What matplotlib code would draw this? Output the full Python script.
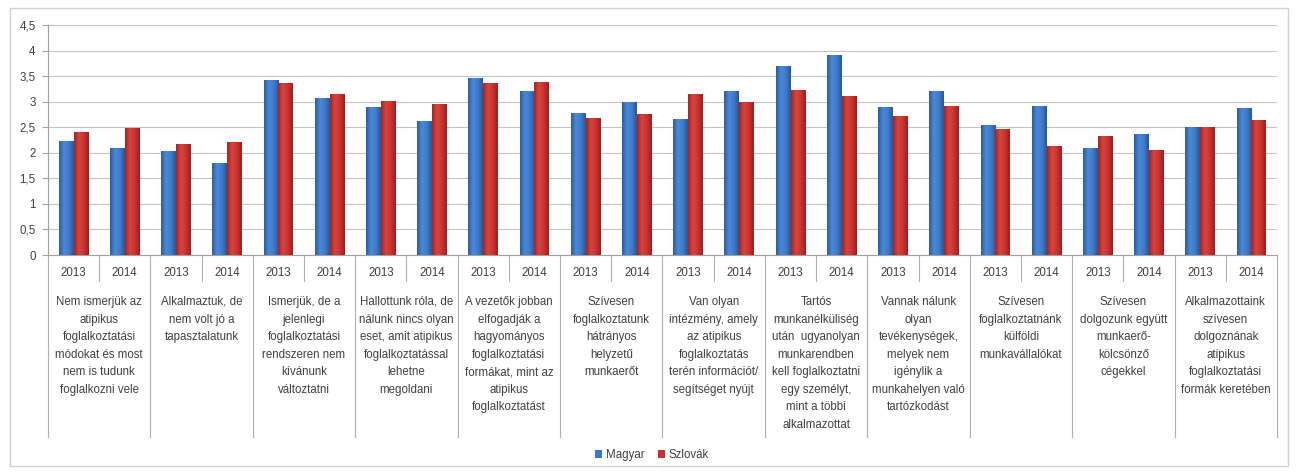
import numpy as np
import matplotlib
matplotlib.use("Agg")
import matplotlib.pyplot as plt
import matplotlib.transforms as mtransforms
from matplotlib.patches import Rectangle
from matplotlib.colors import LinearSegmentedColormap
from matplotlib.ticker import FuncFormatter

plt.rcParams['font.family'] = ['Liberation Sans', 'DejaVu Sans']

# data
groups = [
    "Nem ismerjük az\natipikus\nfoglalkoztatási\nmódokat és most\nnem is tudunk\nfoglalkozni vele",
    "Alkalmaztuk, de\nnem volt jó a\ntapasztalatunk",
    "Ismerjük, de a\njelenlegi\nfoglalkoztatási\nrendszeren nem\nkívánunk\nváltoztatni",
    "Hallottunk róla, de\nnálunk nincs olyan\neset, amit atipikus\nfoglalkoztatással\nlehetne\nmegoldani",
    "A vezetők jobban\nelfogadják a\nhagyományos\nfoglalkoztatási\nformákat, mint az\natipikus\nfoglalkoztatást",
    "Szívesen\nfoglalkoztatunk\nhátrányos\nhelyzetű\nmunkaerőt",
    "Van olyan\nintézmény, amely\naz atipikus\nfoglalkoztatás\nterén információt/\nsegítséget nyújt",
    "Tartós\nmunkanélküliség\nután  ugyanolyan\nmunkarendben\nkell foglalkoztatni\negy személyt,\nmint a többi\nalkalmazottat",
    "Vannak nálunk\nolyan\ntevékenységek,\nmelyek nem\nigénylik a\nmunkahelyen való\ntartózkodást",
    "Szívesen\nfoglalkoztatnánk\nkülföldi\nmunkavállalókat",
    "Szívesen\ndolgozunk együtt\nmunkaerő-\nkölcsönző\ncégekkel",
    "Alkalmazottaink\nszívesen\ndolgoznának\natipikus\nfoglalkoztatási\nformák keretében",
]
years = ["2013", "2014"]
series_names = ["Magyar", "Szlovák"]

magyar = [2.24, 2.10, 2.03, 1.80, 3.42, 3.07, 2.90, 2.63, 3.47, 3.20, 2.78, 3.00,
          2.67, 3.20, 3.70, 3.91, 2.89, 3.20, 2.54, 2.92, 2.09, 2.37, 2.51, 2.88]
szlovak = [2.41, 2.49, 2.17, 2.21, 3.37, 3.15, 3.02, 2.95, 3.37, 3.39, 2.68, 2.75,
           3.15, 3.00, 3.22, 3.12, 2.72, 2.92, 2.47, 2.14, 2.32, 2.05, 2.50, 2.64]

W, H = 1296, 473
fig = plt.figure(figsize=(W / 100, H / 100), dpi=100)

def fx(px):
    return px / W

def fy(py):
    return 1 - py / H

# outer chart frame
fig.patches.append(Rectangle((fx(10), fy(466)), fx(1288) - fx(10), fy(8) - fy(466),
                             transform=fig.transFigure, fill=False,
                             edgecolor='#d0d0d0', linewidth=1.0))

left, right, top, bottom = 48, 1277, 25, 255
ax = fig.add_axes([fx(left), fy(bottom), fx(right) - fx(left), fy(top) - fy(bottom)])

n = len(magyar)
x = np.arange(n) + 0.5
bw = 0.29
blue = '#3b78c9'
red = '#cc302c'
blue_cm = LinearSegmentedColormap.from_list('b', ['#2c5ca3', '#4a8ad8', '#3f7ccc', '#2a569a'])
red_cm = LinearSegmentedColormap.from_list('r', ['#a62420', '#d8443c', '#c83430', '#9c201c'])
bars_m = ax.bar(x - bw / 2, magyar, bw, color=blue, label=series_names[0], zorder=3)
bars_s = ax.bar(x + bw / 2, szlovak, bw, color=red, label=series_names[1], zorder=3)

# cylinder-like shading on each bar
grad = np.linspace(0, 1, 64).reshape(1, -1)
for bars, cm in [(bars_m, blue_cm), (bars_s, red_cm)]:
    for r in bars:
        x0, h = r.get_x(), r.get_height()
        im = ax.imshow(grad, extent=[x0, x0 + r.get_width(), 0, h], cmap=cm,
                       aspect='auto', zorder=3.5, interpolation='bilinear')
        im.set_clip_path(r)

ax.set_xlim(0, n)
ax.set_ylim(0, 4.5)
ax.set_yticks(np.arange(0, 4.51, 0.5))
ax.yaxis.set_major_formatter(FuncFormatter(lambda v, p: ('%g' % v).replace('.', ',')))
ax.tick_params(axis='y', length=4, width=0.8, color='#a0a0a0', labelsize=8.3,
               labelcolor='#404040', pad=5)
ax.set_xticks([])
ax.grid(axis='y', color='#c4c4c4', linewidth=0.8, zorder=0)
for s in ['top', 'right']:
    ax.spines[s].set_visible(False)
for s in ['left', 'bottom']:
    ax.spines[s].set_color('#a0a0a0')
    ax.spines[s].set_linewidth(0.8)

# category axis: years and group labels
trans = mtransforms.blended_transform_factory(ax.transData, fig.transFigure)
sep_color = '#b0b0b0'
for i in range(n):
    ax.text(x[i], fy(273), years[i % 2], transform=trans, ha='center', va='center',
            fontsize=8.3, color='#404040', clip_on=False)
for g in range(len(groups)):
    ax.plot([2 * g + 1, 2 * g + 1], [fy(bottom), fy(281)], transform=trans,
            color=sep_color, linewidth=0.8, clip_on=False)
    ax.text(2 * g + 1, fy(296), groups[g], transform=trans, ha='center', va='top',
            fontsize=8.3, color='#404040', linespacing=1.62, clip_on=False)
for g in range(len(groups) + 1):
    ax.plot([2 * g, 2 * g], [fy(bottom), fy(437)], transform=trans,
            color=sep_color, linewidth=0.8, clip_on=False)

fig.legend(loc='center', bbox_to_anchor=(fx(652), fy(455)), ncol=2, frameon=False,
           fontsize=8.3, handlelength=0.6, handleheight=0.6, handletextpad=0.3,
           columnspacing=1.2, labelcolor='#404040')

fig.savefig('out.png', dpi=100, facecolor='white')
